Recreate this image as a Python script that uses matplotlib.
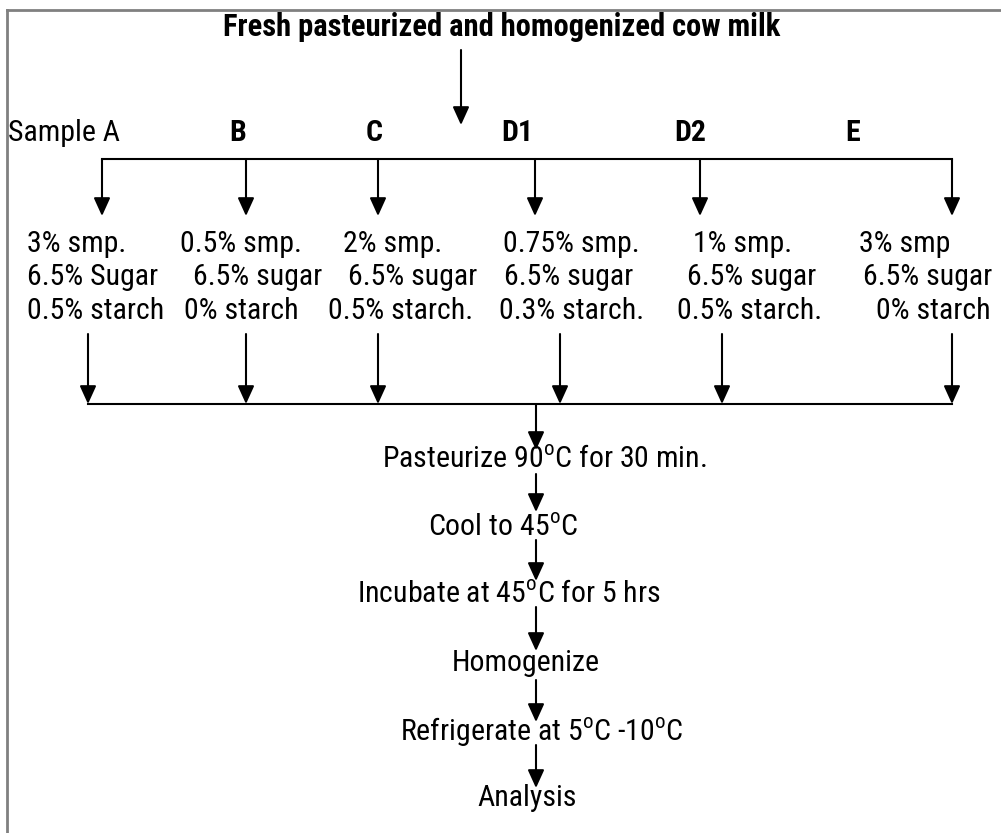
import matplotlib

matplotlib.use("Agg")
import matplotlib.pyplot as plt
from matplotlib.patches import FancyArrowPatch

# --- content -------------------------------------------------------------
title = "Fresh pasteurized and homogenized cow milk"
sample_labels = ["Sample A", "B", "C", "D1", "D2", "E"]
smp = ["3% smp.", "0.5% smp.", "2% smp.", "0.75% smp.", "1% smp.", "3% smp"]
sugar = ["6.5% Sugar", "6.5% sugar", "6.5% sugar", "6.5% sugar", "6.5% sugar", "6.5% sugar"]
starch = ["0.5% starch", "0% starch", "0.5% starch.", "0.3% starch.", "0.5% starch.", "0% starch"]
steps = [
    r"Pasteurize 90$^{\mathregular{o}}$C for 30 min.",
    r"Cool to 45$^{\mathregular{o}}$C",
    r"Incubate at 45$^{\mathregular{o}}$C for 5 hrs",
    "Homogenize",
    r"Refrigerate at 5$^{\mathregular{o}}$C -10$^{\mathregular{o}}$C",
    "Analysis",
]

# --- layout (pixel coordinates, y down) ---------------------------------
label_x = [8, 238, 374, 517, 690, 853]
drop_x = [102, 246, 378, 535, 700, 952]
join_x = [88, 246, 378, 560, 722, 952]
text_left = [
    [27, 180, 343, 503, 693, 859],
    [27, 193, 348, 504, 687, 863],
    [27, 184, 328, 499, 677, 876],
]
step_x = [544, 503, 509, 526, 542, 527]
step_y = [460, 528, 595, 663, 732, 798]
step_arrows = [(404, 450), (474, 512), (540, 581), (607, 651), (680, 722), (745, 788)]
center_x = 536

FONT = ["Liberation Sans Narrow", "Roboto Condensed", "DejaVu Sans"]
plt.rcParams["font.family"] = FONT
plt.rcParams["mathtext.fontset"] = "custom"
plt.rcParams["mathtext.rm"] = FONT[1]

fig = plt.figure(figsize=(10.01, 8.33), dpi=100)
ax = fig.add_axes([0, 0, 1, 1])
ax.set_xlim(0, 1001)
ax.set_ylim(833, 0)
ax.axis("off")

LW = 1.5
FS = 21.5


def arrow(x0, y0, x1, y1):
    ax.add_patch(FancyArrowPatch((x0, y0), (x1, y1),
                                 arrowstyle="-|>,head_length=1.1,head_width=0.5",
                                 mutation_scale=10, color="black", lw=LW,
                                 shrinkA=0, shrinkB=0))


# border (top and left only)
ax.plot([6.5, 6.5], [833, 10], color="#808080", lw=2)
ax.plot([6.5, 1001], [10, 10], color="#808080", lw=2)

ax.text(502, 27, title, ha="center", va="center", fontsize=22, fontweight="bold")
arrow(461, 50, 461, 125)

for i, lab in enumerate(sample_labels):
    if i == 0:
        ax.text(label_x[i], 133, lab, ha="left", va="center", fontsize=FS)
    else:
        ax.text(label_x[i], 133, lab, ha="center", va="center", fontsize=FS,
                fontweight="bold")

ax.plot([drop_x[0], drop_x[-1]], [159, 159], color="black", lw=LW)
for x in drop_x:
    arrow(x, 159, x, 216)

for row, (texts, y) in enumerate(zip([smp, sugar, starch], [244, 277, 311])):
    for i, t in enumerate(texts):
        ax.text(text_left[row][i], y, t, ha="left", va="center", fontsize=FS)

for x in join_x:
    arrow(x, 334, x, 404)
ax.plot([join_x[0], join_x[-1]], [404, 404], color="black", lw=LW)

for (y0, y1), x, y, s in zip(step_arrows, step_x, step_y, steps):
    arrow(center_x, y0, center_x, y1)
    ax.text(x, y, s, ha="center", va="center", fontsize=FS)

fig.savefig("out.png", dpi=100)
